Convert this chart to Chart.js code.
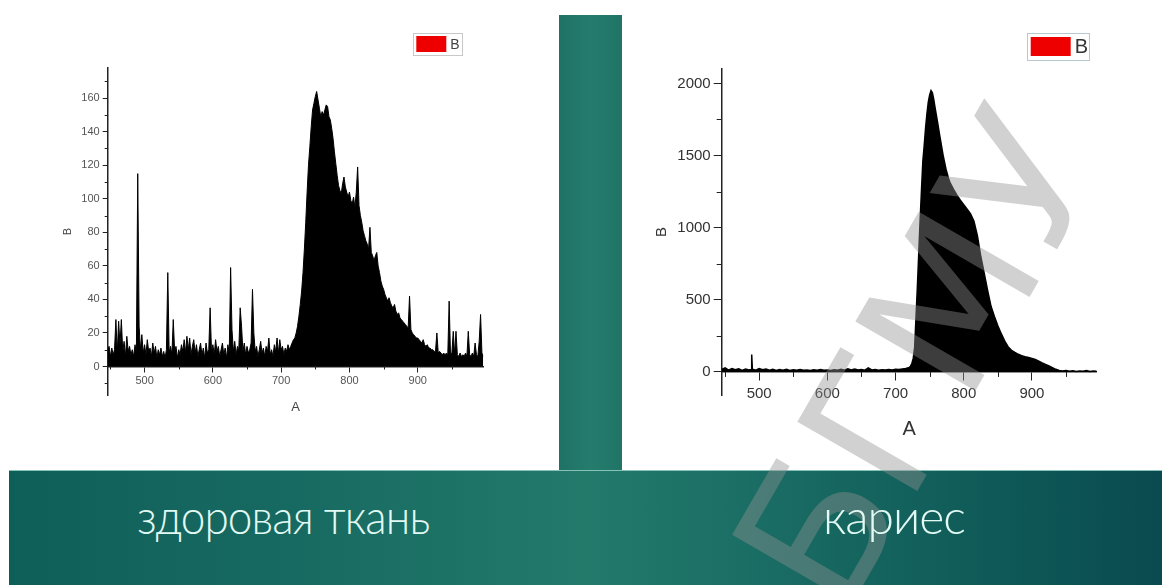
<!DOCTYPE html>
<html>
<head>
<meta charset="utf-8">
<script src="https://cdn.jsdelivr.net/npm/chart.js@4.4.1/dist/chart.umd.min.js"></script>
<style>
html,body{margin:0;padding:0;width:1162px;height:585px;overflow:hidden;background:#fff;}
body{position:relative;}
#vband{position:absolute;left:559px;top:15px;width:63px;height:456px;background:linear-gradient(90deg,#1e7265 0%,#257c6d 50%,#1f7466 100%);}
#hband{position:absolute;left:9px;top:470px;width:1153px;height:115px;border-top:1px solid #86c2b8;box-sizing:border-box;
  background:linear-gradient(90deg,#0f5f59 0%,#176a61 25%,#237a6b 50%,#1a6d64 65%,#0f5a58 85%,#0a4a50 100%);}
canvas{position:absolute;}
#c1{left:50px;top:20px;}
#c2{left:640px;top:20px;}
#wm{position:absolute;left:918px;top:360px;transform:translate(-50%,-50%) rotate(-60deg);font-family:"DejaVu Sans";font-size:190px;line-height:1;color:rgba(145,145,145,0.42);white-space:nowrap;pointer-events:none;}
.cap{position:absolute;top:492px;font-family:Lato;font-weight:300;font-size:48px;line-height:48px;color:#e2faf3;white-space:nowrap;letter-spacing:-1px;}
#cap1{left:137px;transform:scaleX(0.92);transform-origin:0 50%;}
#cap2{left:823px;}
</style>
</head>
<body>
<div id="vband"></div>
<div id="hband"></div>
<canvas id="c1" width="450" height="440"></canvas>
<canvas id="c2" width="480" height="450"></canvas>
<div id="wm">БГМУ</div>
<div class="cap" id="cap1">здоровая ткань</div>
<div class="cap" id="cap2">кариес</div>
<script>
// ---- data: healthy tissue (left chart) ----
const leftNm = [
446,448,450,452,454,456,458,460,462,464,
466,468,470,472,474,476,478,480,482,484,
486,488,490,492,494,496,498,500,502,504,
506,508,510,512,514,516,518,520,522,524,
526,528,530,532,534,536,538,540,542,544,
546,548,550,552,554,556,558,560,562,564,
566,568,570,572,574,576,578,580,582,584,
586,588,590,592,594,596,598,600,602,604,
606,608,610,612,614,616,618,620,622,624,
626,628,630,632,634,636,638,640,642,644,
646,648,650,652,654,656,658,660,662,664,
666,668,670,672,674,676,678,680,682,684,
686,688,690,692,694,696,698,700,702,704,
706,708,710,712,714,716,718,720,722,724,
726,728,730,732,734,736,738,740,742,744,
746,748,750,752,754,756,758,760,762,764,
766,768,770,772,774,776,778,780,782,784,
786,788,790,792,794,796,798,800,802,804,
806,808,810,812,814,816,818,820,822,824,
826,828,830,832,834,836,838,840,842,844,
846,848,850,852,854,856,858,860,862,864,
866,868,870,872,874,876,878,880,882,884,
886,888,890,892,894,896,898,900,902,904,
906,908,910,912,914,916,918,920,922,924,
926,928,930,932,934,936,938,940,942,944,
946,948,950,952,954,956,958,960,962,964,
966,968,970,972,974,976,978,980,982,984,
986,988,990,992,994,996];
const leftB = [
9,12,6,11,7,10,28,8,27,13,
28,9,15,6,18,9,12,7,10,6,
13,8,115,24,10,19,8,13,7,16,
9,11,6,14,8,12,5,10,7,11,
6,9,5,10,56,8,12,7,28,9,
12,5,10,7,13,9,16,8,18,10,
17,7,12,16,8,13,6,10,14,7,
11,5,14,8,10,35,9,13,7,16,
9,12,6,10,14,7,11,5,13,8,
59,22,9,15,7,12,10,35,24,9,
14,7,12,8,10,14,46,20,9,12,
6,10,15,8,11,6,12,9,17,7,
10,6,13,9,17,8,16,10,12,7,
11,9,13,10,12,14,16,17,20,24,
30,37,45,56,70,86,104,120,131,143,
153,157,161,164,159,154,149,152,150,153,
156,155,149,147,142,136,128,121,114,108,
105,103,109,113,107,104,101,104,99,97,
101,95,104,119,96,90,86,81,78,75,
73,70,83,68,66,63,66,68,60,56,
51,48,46,43,41,39,41,38,36,35,
37,33,31,32,29,28,27,26,25,24,
23,42,22,20,19,18,17,17,16,15,
14,16,13,12,13,11,11,10,10,9,
9,20,8,9,8,7,8,7,8,7,
39,7,8,21,7,21,7,6,8,6,
7,6,8,6,21,7,6,8,6,14,
7,6,15,31,8,6];
const leftYTicks = [0,20,40,60,80,100,120,140,160];

// ---- data: caries (right chart) ----
const rightNm = [
445,450,455,460,465,470,475,480,485,488,489,490,495,
500,505,510,515,520,525,530,535,540,545,550,555,560,565,570,575,580,585,590,595,
600,605,610,615,620,625,630,635,640,645,650,655,660,665,670,675,680,685,690,695,
700,705,710,715,720,722,724,726,728,730,732,734,736,738,740,742,744,746,748,750,
752,754,756,758,760,762,764,766,768,770,772,774,776,778,780,785,790,795,
800,805,810,815,820,825,830,835,840,845,850,855,860,865,870,875,880,885,890,895,
900,905,910,915,920,925,930,935,940,945,950,955,960,965,970,975,980,985,990,995];
const rightB = [
18,28,12,24,15,22,10,20,14,16,120,18,12,
24,15,20,12,18,10,16,12,18,10,15,12,17,11,14,10,15,12,16,11,
14,10,15,12,18,12,22,14,20,13,16,12,28,14,16,12,15,13,17,14,
18,16,20,24,30,40,60,95,170,380,590,820,1050,1260,1460,1570,1690,1790,1870,1920,
1950,1935,1890,1830,1775,1720,1660,1605,1550,1495,1450,1405,1370,1335,1310,1265,1225,1190,
1160,1128,1095,1045,945,800,685,565,455,385,320,265,215,175,150,135,122,113,106,100,
94,86,75,63,52,42,30,18,10,6,10,4,8,3,7,4,9,3,6,4];
const rightYTicks = [0,500,1000,1500,2000];

const xTicks = [500,600,700,800,900];
const xTitle = 'A';
const seriesName = 'B';

// ---- plugins ----
const minorTicks = {
  id: 'minorTicks',
  afterDraw(chart, args, o) {
    const ctx = chart.ctx, xs = chart.scales.x, ys = chart.scales.y, ca = chart.chartArea;
    const y0 = ys.getPixelForValue(0);
    ctx.save();
    ctx.strokeStyle = o.color; ctx.lineWidth = o.width;
    ctx.beginPath();
    for (let v = Math.ceil(xs.min / o.xStep) * o.xStep; v <= xs.max; v += o.xStep) {
      if (v % o.xMajor === 0) continue;
      const px = Math.round(xs.getPixelForValue(v)) + 0.5;
      ctx.moveTo(px, y0); ctx.lineTo(px, y0 + o.len);
    }
    for (let v = Math.ceil(ys.min / o.yStep) * o.yStep; v <= ys.max; v += o.yStep) {
      if (v % o.yMajor === 0) continue;
      const py = Math.round(ys.getPixelForValue(v)) + 0.5;
      ctx.moveTo(ca.left, py); ctx.lineTo(ca.left - o.len, py);
    }
    ctx.stroke();
    ctx.restore();
  }
};
const boxLegend = {
  id: 'boxLegend',
  afterDraw(chart, args, o) {
    const ctx = chart.ctx, ca = chart.chartArea;
    const x = ca.right + o.dx, y = ca.top + o.dy;
    ctx.save();
    ctx.fillStyle = '#ffffff';
    ctx.fillRect(x, y, o.w, o.h);
    ctx.strokeStyle = o.frame; ctx.lineWidth = 1;
    ctx.strokeRect(Math.round(x) + 0.5, Math.round(y) + 0.5, o.w, o.h);
    ctx.fillStyle = o.color;
    ctx.fillRect(x + o.pad, y + o.pad, o.boxW, o.h - 2 * o.pad);
    ctx.fillStyle = o.textColor;
    ctx.font = o.font;
    ctx.textBaseline = 'middle';
    ctx.fillText(chart.data.datasets[0].label, x + o.pad + o.boxW + o.gap, y + o.h / 2 + 1);
    ctx.restore();
  }
};

const fam = '"Liberation Sans", Arial, sans-serif';

function makeChart(id, nm, vals, yTicks, cfg) {
  const data = nm.map((x, i) => ({x: x, y: vals[i]}));
  return new Chart(document.getElementById(id), {
    type: 'line',
    data: { datasets: [{
      label: seriesName, data: data,
      borderColor: '#000', backgroundColor: '#000', borderWidth: cfg.lw,
      fill: 'origin', pointRadius: 0, tension: 0
    }]},
    options: {
      responsive: false, animation: false,
      layout: { padding: cfg.pad },
      plugins: {
        legend: { display: false }, tooltip: { enabled: false },
        minorTicks: cfg.minor, boxLegend: cfg.legend
      },
      scales: {
        x: {
          type: 'linear', min: cfg.xMin, max: cfg.xMax, position: { y: 0 },
          afterBuildTicks(s) { s.ticks = xTicks.map(v => ({value: v})); },
          ticks: { color: cfg.tickColor, font: { family: fam, size: cfg.tickFont }, padding: cfg.xPad, maxRotation: 0, autoSkip: false, callback: v => String(v) },
          grid: { display: true, drawOnChartArea: false, tickLength: cfg.tickLen, tickColor: '#222', tickWidth: 1 },
          border: { display: true, color: '#222', width: 1.5 },
          title: { display: true, text: xTitle, color: cfg.titleColor, font: { family: fam, size: cfg.xTitleFont }, padding: { top: 0, bottom: cfg.xTitlePadB } },
          afterFit(s) { s.height = cfg.xH; }
        },
        y: {
          min: cfg.yMin, max: cfg.yMax,
          afterBuildTicks(s) { s.ticks = yTicks.map(v => ({value: v})); },
          ticks: { color: cfg.tickColor, font: { family: fam, size: cfg.tickFont }, padding: 3, autoSkip: false, callback: v => String(v) },
          grid: { display: true, drawOnChartArea: false, tickLength: cfg.tickLen, tickColor: '#222', tickWidth: 1 },
          border: { display: true, color: '#222', width: 1.5 },
          title: { display: true, text: seriesName, color: cfg.titleColor, font: { family: fam, size: cfg.yTitleFont }, padding: { top: cfg.yTitlePadT, bottom: 0 } },
          afterFit(s) { s.width = cfg.yW; }
        }
      }
    },
    plugins: [minorTicks, boxLegend]
  });
}

makeChart('c1', leftNm, leftB, leftYTicks, {
  lw: 1, xMin: 446, xMax: 996, yMin: -17, yMax: 178,
  pad: { left: 0, right: 16.7, top: 48, bottom: 65 },
  xH: 65, yW: 57.7, tickLen: 5, tickFont: 11, xPad: 3, tickColor: '#555', titleColor: '#444',
  xTitleFont: 13, xTitlePadB: 16, yTitleFont: 11, yTitlePadT: 11,
  minor: { xStep: 50, xMajor: 100, yStep: 10, yMajor: 20, len: 3, color: '#222', width: 1 },
  legend: { dx: -70, dy: -35, w: 49, h: 22, pad: 3, boxW: 30, gap: 4, color: '#ee0000', frame: '#c8c8c8', textColor: '#444', font: '14px ' + fam }
});
makeChart('c2', rightNm, rightB, rightYTicks, {
  lw: 1.5, xMin: 445, xMax: 995, yMin: -160, yMax: 2100,
  pad: { left: 0, right: 23.3, top: 49, bottom: 75 },
  xH: 75, yW: 81.7, tickLen: 8, tickFont: 15, xPad: 5, tickColor: '#333', titleColor: '#333',
  xTitleFont: 20, xTitlePadB: 5, yTitleFont: 15, yTitlePadT: 13,
  minor: { xStep: 50, xMajor: 100, yStep: 250, yMajor: 500, len: 5, color: '#222', width: 1 },
  legend: { dx: -70, dy: -36, w: 62, h: 27, pad: 4, boxW: 40, gap: 4, color: '#ee0000', frame: '#b8c8d0', textColor: '#333', font: '20px ' + fam }
});
</script>
</body>
</html>
